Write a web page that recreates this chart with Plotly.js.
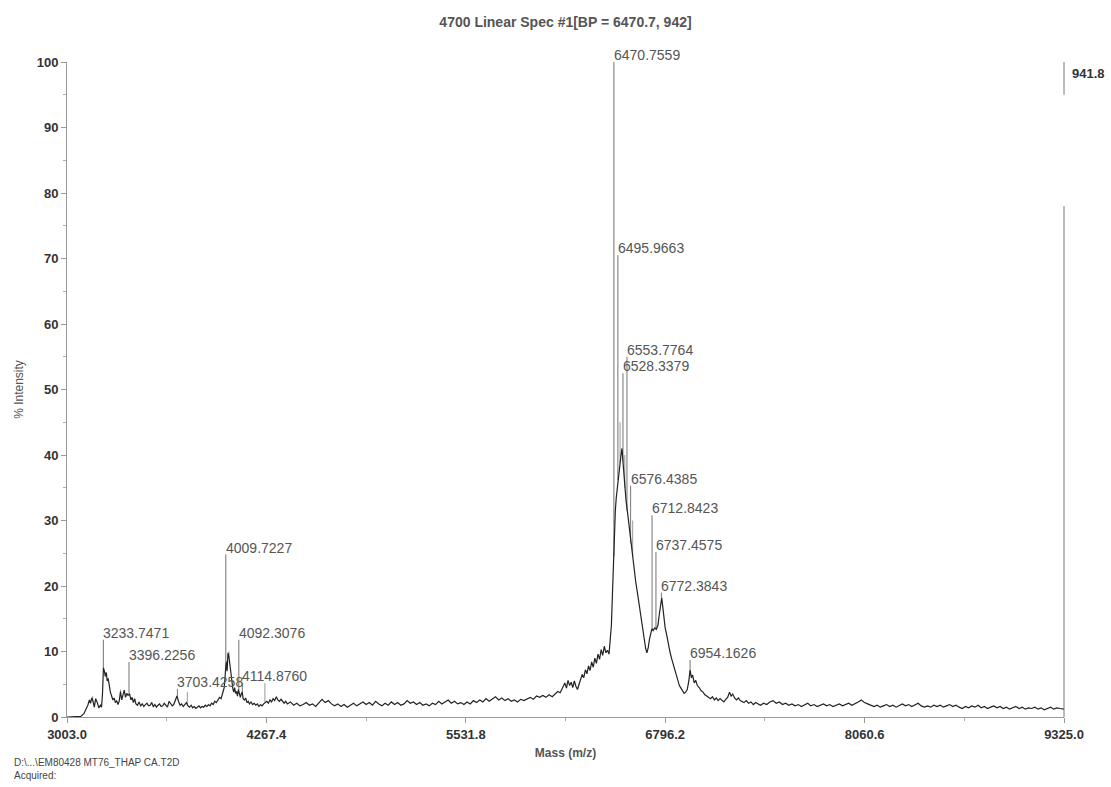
<!DOCTYPE html>
<html>
<head>
<meta charset="utf-8">
<script src="https://cdn.plot.ly/plotly-3.0.1.min.js"></script>
<style>html,body{margin:0;padding:0;background:#fff;}#chart{width:1111px;height:787px;}</style>
</head>
<body>
<div id="chart"></div>
<script>
// ---- data ----
const profileMz = [3003,3030,3060,3090,3110,3125,3135,3145,3152,3160,3168,3176,3185,3195,3205,3215,3222,3228,
3234,3240,3246,3252,3258,3264,3270,3278,3286,3294,3302,3310,3318,3326,3334,3342,3350,3358,3366,3374,3382,3390,3400,3408,3416,3424,3432,3440,3450,3460,3470,3480,3490,3500,3510,3520,3530,3540,3550,3560,3570,3580,3590,3600,3610,3620,3630,3640,3650,3660,3670,3680,3690,3700,3710,3720,3730,3740,3750,3760,3770,3780,3790,3800,3810,3820,3830,3840,3850,3860,3870,3880,3890,3900,3910,3920,3930,3940,3950,3960,3970,3980,3990,4000,4005,4012,4018,4024,4030,4036,4042,4048,4054,4060,4066,4072,4078,4084,4090,4096,4102,4108,4114,4120,4128,4136,4144,4152,4160,4170,4180,4190,4200,4210,4220,4230,4240,4250,4260,4270,4280,4290,4300,4310,4320,4330,4340,4350,4360,4370,4380,4390,
4400,4420,4440,4460,4480,4500,4520,4540,4560,4580,4600,4620,4640,4660,4680,4700,4720,4740,4760,4780,4800,4820,4840,4860,4880,4900,4920,4940,4960,4980,5000,5020,5040,5060,5080,5100,5120,5140,5160,5180,5200,5220,5240,5260,5280,5300,5320,5340,5360,5380,5400,5420,5440,5460,5480,5500,5520,5540,5560,5580,5600,5620,5640,5660,5680,5700,5720,5740,5760,5780,5800,5820,5840,5860,5880,5900,5920,5940,5960,5980,6000,6020,6040,6060,6080,6100,6115,6130,6145,6160,6170,6180,6190,6200,6210,6220,6230,6240,6250,6260,6270,6280,6290,6300,6310,6320,6330,6340,6350,6360,6370,6380,6390,6400,6410,6420,6430,6440,6448,6455,6462,6468,6474,6480,6486,6492,6498,6504,6510,6516,6522,6528,6534,6540,6548,6556,6564,6572,6580,6590,6600,6610,6620,6630,6640,6648,6656,6664,6672,6680,6688,6696,6704,6712,6720,6730,6740,6750,6758,6766,6774,6780,6788,6796,6806,6816,6826,6836,6846,6856,6866,6876,6886,6896,6906,6916,6926,6936,6946,6954,6962,6970,6980,6990,7000,7012,7024,7036,7048,7060,7072,7084,7096,7108,7120,7132,7144,7156,7168,7180,7192,7204,7214,7224,7236,7248,7260,7272,7284,7296,7310,7325,7340,7355,7370,7385,7400,7420,7440,7460,7480,7500,7520,7540,7560,7580,7600,7620,7640,7660,7680,7700,7720,7740,7760,7780,7800,7820,7840,7860,7880,7900,7920,7940,7960,7980,8000,8020,8040,8060,8080,8100,8120,8140,8160,8180,8200,8220,8240,8260,8280,8300,8320,8340,8360,8380,8400,8420,8440,8460,8480,8500,8520,8540,8560,8580,8600,8620,8640,8660,8680,8700,8720,8740,8760,8780,8800,8820,8840,8860,8880,8900,8920,8940,8960,8980,9000,9020,9040,9060,9080,9100,9120,9140,9160,9180,9200,9220,9240,9260,9280,9300,9325];
const profileInt = [0,0,0,0.1,0.5,1.2,1.8,2.6,2.1,2.9,2.4,1.5,2.8,2.2,1.4,1.8,1.5,3.5,
7.5,7.0,6.2,6.8,5.5,5.9,4.6,3.8,3.2,2.6,2.9,2.2,2.5,1.9,2.4,3.9,2.6,3.2,4.1,3.0,3.6,3.3,3.5,2.6,3.0,2.2,2.8,2.0,1.8,2.3,1.7,2.0,1.6,1.9,2.1,1.7,1.8,2.2,1.6,1.9,1.5,1.8,2.0,1.6,1.7,2.1,1.8,1.5,2.4,2.0,1.7,1.9,2.5,3.2,2.4,1.8,2.0,1.6,1.9,2.2,1.7,1.5,1.8,1.4,1.6,1.3,1.5,1.7,1.4,1.6,1.5,1.8,1.6,1.9,1.7,2.1,1.9,2.4,2.2,2.6,3.0,2.8,3.6,4.5,6.0,8.5,7.0,9.8,9.2,8.0,6.5,5.2,4.4,3.8,4.5,3.6,3.9,3.2,4.2,3.6,3.0,3.5,3.8,2.8,2.6,2.9,2.2,2.4,2.0,2.3,1.9,2.1,1.8,2.0,1.6,1.9,1.7,2.0,2.2,2.4,2.1,2.6,2.3,2.8,2.5,3.1,2.6,2.4,2.7,2.3,2.1,2.4,
2.0,2.3,1.8,2.1,1.7,1.9,2.2,1.8,2.0,1.6,2.1,2.7,2.2,2.5,2.0,1.7,2.0,1.6,1.9,1.5,1.8,2.1,1.7,2.0,2.3,1.9,2.2,1.8,2.4,2.0,1.7,2.1,1.8,2.3,1.9,2.2,1.8,2.0,2.5,2.1,2.3,1.9,2.2,1.8,2.0,1.7,2.1,1.9,2.4,2.0,2.3,2.6,2.1,2.4,2.0,2.2,1.9,2.3,2.0,2.5,2.2,2.6,2.3,2.8,2.4,2.7,3.1,2.6,2.9,2.5,2.8,2.4,2.6,2.3,2.7,2.5,2.8,3.0,2.7,3.2,3.0,3.3,3.0,3.4,3.1,3.5,3.9,3.7,4.6,5.2,4.4,5.6,4.8,5.3,4.5,5.5,4.7,4.2,5.0,5.8,6.5,6.0,7.2,6.6,7.8,7.1,8.4,7.6,9.0,8.2,9.6,8.8,10.3,9.4,10.8,9.8,10.2,9.6,11.5,14.0,19.0,24.5,28.5,31.5,33.5,35.0,36.2,37.5,38.8,40.0,41.0,39.0,36.5,35.0,33.0,31.5,29.8,28.0,26.5,24.5,22.5,20.5,19.0,17.2,15.8,14.5,13.0,11.5,10.5,9.8,10.5,11.8,12.8,13.5,13.2,13.6,13.4,14.0,15.5,17.0,18.2,17.0,15.0,13.6,12.5,11.0,10.0,9.0,8.2,7.0,6.2,5.4,4.8,4.4,4.0,3.6,3.8,4.2,5.5,7.2,6.0,6.4,5.2,5.6,4.8,4.5,4.0,3.8,3.4,3.2,3.0,2.8,3.1,2.6,2.9,2.5,2.8,2.6,2.3,2.7,3.0,3.8,3.2,3.5,2.9,2.6,2.9,2.5,2.4,2.2,2.5,2.1,2.3,1.9,2.2,2.0,1.8,2.1,1.9,2.3,2.5,2.1,2.3,1.9,2.1,1.8,2.0,1.7,1.9,1.6,1.8,2.1,1.7,1.9,1.6,1.8,2.0,1.7,1.9,1.6,1.8,2.0,1.7,1.9,2.1,1.8,2.0,2.3,2.6,2.2,2.0,1.8,1.6,1.8,1.5,1.7,1.9,1.6,1.8,1.5,1.7,2.0,1.7,1.9,1.6,1.8,2.1,1.7,1.5,1.7,1.5,1.8,1.6,1.8,1.5,1.7,1.9,1.6,1.8,1.5,1.3,1.6,1.4,1.7,1.5,1.8,1.4,1.6,1.3,1.5,1.7,1.4,1.6,1.3,1.5,1.2,1.4,1.6,1.3,1.5,1.2,1.4,1.3,1.5,1.2,1.4,1.1,1.3,1.5,1.2,1.4,1.3,1.2];

// labelled peaks
const peakMz  = [3233.7471,3396.2256,3703.4258,4009.7227,4092.3076,4114.8760,6470.7559,6495.9663,6528.3379,6553.7764,6576.4385,6712.8423,6737.4575,6772.3843,6954.1626];
const peakInt = [11.8,8.4,4.3,24.8,11.8,5.2,100,70.5,52.5,55.0,35.3,30.8,25.2,19.0,8.7];
// unlabelled spikes
const minorMz  = [3166,3342,3766,4030,4258,6510,6540,6590];
const minorInt = [3.2,4.2,3.8,10.0,5.2,45,40,30];

const xTickVals = [3003.0,4267.4,5531.8,6796.2,8060.6,9325.0];
const xTickText = ["3003.0","4267.4","5531.8","6796.2","8060.6","9325.0"];
const yTickVals = [0,10,20,30,40,50,60,70,80,90,100];

// ---- build sticks, each rising from the profile level at its nearest sample ----
function baseAt(m){
  let best = 0, bd = Infinity;
  for(let i=0;i<profileMz.length;i++){ const d=Math.abs(profileMz[i]-m); if(d<bd){bd=d;best=i;} }
  return profileInt[best];
}
function sticks(mz, it){
  const x=[], y=[];
  for(let i=0;i<mz.length;i++){ x.push(mz[i],mz[i],null); y.push(Math.min(baseAt(mz[i]), it[i]),it[i],null); }
  return {x, y};
}
const s1 = sticks(peakMz, peakInt);
const s2 = sticks(minorMz, minorInt);

const traces = [
  {x:s2.x, y:s2.y, type:'scatter', mode:'lines', line:{color:'#9a9a9a', width:1}, hoverinfo:'skip', showlegend:false},
  {x:s1.x, y:s1.y, type:'scatter', mode:'lines', line:{color:'#8a8a8a', width:1.2}, hoverinfo:'skip', showlegend:false},
  {x:profileMz, y:profileInt, type:'scatter', mode:'lines', line:{color:'#222', width:1.2}, showlegend:false}
];

const labelFont = {family:'Liberation Sans, Arial, sans-serif', size:14, color:'#555'};
const annotations = peakMz.map((m,i)=>({
  x:m, y:peakInt[i], xref:'x', yref:'y', text:m.toFixed(4), showarrow:false,
  xanchor:'left', yanchor:'bottom', xshift:-2, yshift:-3, font:labelFont
}));
annotations.push({xref:'paper', yref:'paper', x:1.006, y:1.0, xanchor:'left', yanchor:'top', yshift:-2, showarrow:false,
  text:'941.8', font:{family:'Liberation Sans, Arial, sans-serif', size:13, color:'#333', weight:'bold'}});
annotations.push({xref:'paper', yref:'paper', x:-0.055, y:-0.058, xanchor:'left', yanchor:'top', showarrow:false, align:'left',
  text:'D:\\...\\EM80428 MT76_THAP CA.T2D<br>Acquired:', font:{family:'Liberation Sans, Arial, sans-serif', size:10, color:'#444'}});

const tickFont = {family:'Liberation Sans, Arial, sans-serif', size:13, color:'#333', weight:'bold'};

const layout = {
  width:1111, height:787,
  margin:{l:67, r:47, t:62, b:70},
  paper_bgcolor:'#fff', plot_bgcolor:'#fff',
  title:{text:'4700 Linear Spec #1[BP = 6470.7, 942]', x:0.5, xref:'paper', y:0.972, yref:'container', yanchor:'middle',
    font:{family:'Liberation Sans, Arial, sans-serif', size:14, color:'#555', weight:'bold'}},
  xaxis:{range:[3003,9325], showgrid:false, zeroline:false, showline:true, linecolor:'#999', linewidth:1,
    ticks:'outside', ticklen:5, tickcolor:'#999', tickvals:xTickVals, ticktext:xTickText, tickfont:tickFont,
    minor:{ticks:'outside', ticklen:3, tickcolor:'#aaa', dtick:632.2, tick0:3003, showgrid:false},
    title:{text:'Mass (m/z)', standoff:8, font:{family:'Liberation Sans, Arial, sans-serif', size:12, color:'#555', weight:'bold'}}},
  yaxis:{range:[0,100], showgrid:false, zeroline:false, showline:true, linecolor:'#999', linewidth:1,
    ticks:'outside', ticklen:5, tickcolor:'#999', tickvals:yTickVals, tickfont:tickFont,
    minor:{ticks:'outside', ticklen:3, tickcolor:'#aaa', dtick:5, showgrid:false},
    title:{text:'% Intensity', standoff:10, font:{family:'Liberation Sans, Arial, sans-serif', size:12, color:'#555'}}},
  shapes:[
    {type:'line', xref:'paper', yref:'y', x0:1, x1:1, y0:0, y1:78, line:{color:'#777', width:1}},
    {type:'line', xref:'paper', yref:'y', x0:1, x1:1, y0:95, y1:100, line:{color:'#777', width:1}}
  ],
  annotations:annotations,
  showlegend:false
};

Plotly.newPlot('chart', traces, layout, {displayModeBar:false, staticPlot:true});
</script>
</body>
</html>
